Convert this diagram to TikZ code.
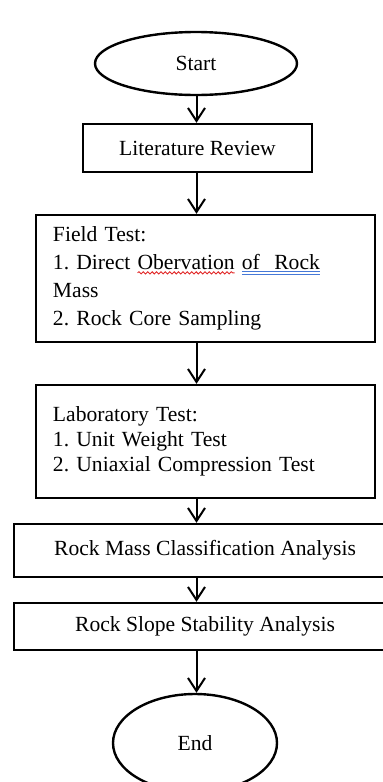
\documentclass[tikz,border=0pt]{standalone}
\usepackage{fontspec}
\setmainfont{Liberation Serif}
\usetikzlibrary{shapes.geometric,arrows.meta,decorations.pathmorphing}

\definecolor{spellred}{RGB}{225,40,40}
\definecolor{grammarblue}{RGB}{70,120,215}

% proofing marks under words
\newsavebox{\markbox}
\newcommand{\spellwave}[1]{\sbox{\markbox}{#1}%
	\tikz[overlay,x=1pt,y=1pt]\draw[spellred,line width=0.45pt,decorate,
		decoration={snake,amplitude=0.55pt,segment length=2.2pt}] (0,-1.6) -- (\wd\markbox,-1.6);%
	\usebox{\markbox}}
\newcommand{\grammarline}[1]{\sbox{\markbox}{#1}%
	\tikz[overlay,x=1pt,y=1pt]{\draw[grammarblue,line width=0.6pt] (0,-0.9) -- (\wd\markbox,-0.9);
		\draw[grammarblue,line width=0.6pt] (0,-2.3) -- (\wd\markbox,-2.3);}%
	\usebox{\markbox}}

\begin{document}
\frenchspacing
\begin{tikzpicture}[x=0.5pt,y=-0.5pt,
		every node/.style={font=\fontsize{10.8}{13}\selectfont},
		term/.style={draw,ellipse,line width=1.2pt,inner sep=0pt},
		proc/.style={draw,rectangle,line width=1.2pt,inner sep=0pt},
		steps/.style={proc,align=left,inner xsep=8.5pt,text width=152.5pt},
		flow/.style={-{Straight Barb[length=6.5pt,width=8.5pt]},line width=1pt}]
		\useasboundingbox (0,0) rectangle (383,782);
		\coordinate (axis) at (196.5,0);
		
		\node[term,minimum width=101pt,minimum height=31.5pt] (start) at (196,63.5) {Start};
		\node[proc,minimum width=114.5pt,minimum height=24pt] (lit) at (197.5,148) {Literature Review};
		
		\node[steps,minimum height=63.5pt,font=\fontsize{10.8}{14}\selectfont] (field) at (205.5,278.5)
			{Field Test:\\1. Direct \spellwave{Obervation} \grammarline{of\ \ Rock}\\Mass\\2. Rock Core Sampling};
		\node[steps,minimum height=56.5pt,font=\fontsize{10.8}{12.5}\selectfont] (lab) at (205.5,441.5)
			{Laboratory Test:\\1. Unit Weight Test\\2. Uniaxial Compression Test};
		
		\node[proc,minimum width=191pt,minimum height=26.5pt] (rmc) at (205,550.5) {Rock Mass Classification Analysis};
		\node[proc,minimum width=191pt,minimum height=23.5pt] (rss) at (205,626.5) {Rock Slope Stability Analysis};
		\node[term,minimum width=82pt,minimum height=49pt] (end) at (195,743) {End};
		
		\draw[flow] (start.south -| axis) -- (lit.north -| axis);
		\draw[flow] (lit.south -| axis) -- (field.north -| axis);
		\draw[flow] (field.south -| axis) -- (lab.north -| axis);
		\draw[flow] (lab.south -| axis) -- (rmc.north -| axis);
		\draw[flow] (rmc.south -| axis) -- (rss.north -| axis);
		\draw[flow] (rss.south -| axis) -- (end.north -| axis);
		\end{tikzpicture}
\end{document}
